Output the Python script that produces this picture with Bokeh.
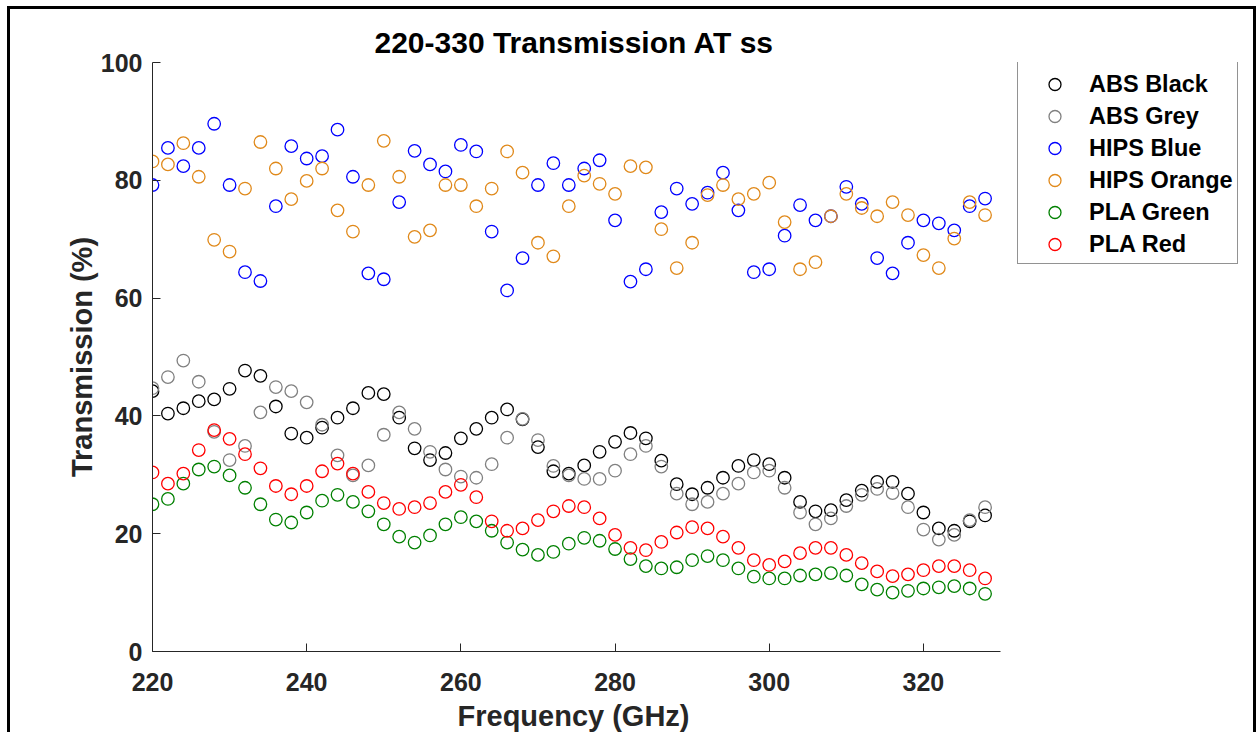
from bokeh.plotting import figure
from bokeh.models import Range1d, Legend, LegendItem, FixedTicker, Title
from bokeh.embed import file_html
from bokeh.resources import INLINE

freq = [220, 222, 224, 226, 228, 230, 232, 234, 236, 238, 240, 242, 244, 246,
        248, 250, 252, 254, 256, 258, 260, 262, 264, 266, 268, 270, 272, 274,
        276, 278, 280, 282, 284, 286, 288, 290, 292, 294, 296, 298, 300, 302,
        304, 306, 308, 310, 312, 314, 316, 318, 320, 322, 324, 326, 328]

abs_black = [44.2, 40.4, 41.3, 42.5, 42.8, 44.6, 47.7, 46.8, 41.6, 37.0, 36.3, 38.0, 39.7, 41.3,
             43.9, 43.7, 39.7, 34.5, 32.5, 33.7, 36.2, 37.8, 39.7, 41.1, 39.4, 34.7, 30.6, 30.2,
             31.6, 33.9, 35.6, 37.1, 36.2, 32.4, 28.4, 26.7, 27.8, 29.5, 31.5, 32.5, 31.8, 29.5,
             25.4, 23.8, 24.0, 25.7, 27.3, 28.8, 28.8, 26.8, 23.6, 20.9, 20.5, 22.1, 23.1]
abs_grey = [44.7, 46.6, 49.4, 45.8, 37.3, 32.5, 34.9, 40.6, 44.9, 44.2, 42.3, 38.5, 33.3, 29.9,
            31.6, 36.8, 40.6, 37.8, 33.9, 30.9, 29.7, 29.5, 31.8, 36.3, 39.5, 35.9, 31.5, 29.9,
            29.3, 29.3, 30.7, 33.5, 34.9, 31.4, 26.8, 25.0, 25.4, 26.8, 28.5, 30.4, 30.7, 27.8,
            23.6, 21.6, 22.6, 24.7, 26.6, 27.6, 26.9, 24.5, 20.7, 19.0, 19.8, 22.3, 24.5]
hips_blue = [79.2, 85.5, 82.4, 85.5, 89.6, 79.2, 64.4, 62.9, 75.6, 85.8, 83.7, 84.1, 88.6, 80.6,
             64.2, 63.2, 76.3, 85.0, 82.7, 81.5, 86.0, 84.9, 71.3, 61.3, 66.8, 79.2, 82.9, 79.2,
             82.0, 83.4, 73.2, 62.8, 64.9, 74.6, 78.6, 76.0, 77.9, 81.3, 74.9, 64.4, 64.9, 70.6,
             75.8, 73.2, 73.9, 78.9, 76.0, 66.8, 64.2, 69.4, 73.2, 72.7, 71.5, 75.6, 76.9]
hips_orange = [83.2, 82.7, 86.3, 80.6, 69.9, 67.9, 78.6, 86.5, 82.0, 76.8, 79.9, 82.0, 74.9, 71.3,
               79.2, 86.7, 80.6, 70.4, 71.5, 79.2, 79.2, 75.6, 78.6, 84.9, 81.3, 69.4, 67.1, 75.6,
               80.8, 79.4, 77.7, 82.4, 82.2, 71.7, 65.1, 69.4, 77.5, 79.2, 76.8, 77.7, 79.6, 72.9,
               64.9, 66.1, 73.9, 77.7, 75.3, 73.9, 76.3, 74.1, 67.3, 65.1, 70.1, 76.3, 74.1]
pla_green = [25.0, 25.9, 28.5, 30.9, 31.4, 29.9, 27.8, 25.0, 22.4, 21.9, 23.6, 25.6, 26.6, 25.4,
             23.8, 21.6, 19.5, 18.5, 19.7, 21.6, 22.8, 22.1, 20.5, 18.5, 17.3, 16.4, 16.9, 18.3,
             19.3, 18.8, 17.4, 15.7, 14.5, 14.1, 14.3, 15.5, 16.2, 15.5, 14.1, 12.7, 12.4, 12.4,
             12.9, 13.1, 13.3, 12.9, 11.4, 10.5, 10.0, 10.3, 10.7, 10.9, 11.1, 10.7, 9.8]
pla_red = [30.4, 28.5, 30.2, 34.2, 37.6, 36.1, 33.5, 31.1, 28.1, 26.7, 28.1, 30.6, 31.9, 30.2,
           27.1, 25.2, 24.2, 24.5, 25.2, 27.1, 28.3, 26.2, 22.1, 20.5, 20.9, 22.3, 23.8, 24.7,
           24.5, 22.6, 19.8, 17.6, 17.2, 18.6, 20.2, 21.1, 20.9, 19.5, 17.6, 15.5, 14.7, 15.3,
           16.7, 17.6, 17.6, 16.4, 15.0, 13.6, 12.8, 13.1, 13.8, 14.5, 14.5, 13.8, 12.4]

series_names = ["ABS Black", "ABS Grey", "HIPS Blue", "HIPS Orange", "PLA Green", "PLA Red"]
series_values = [abs_black, abs_grey, hips_blue, hips_orange, pla_green, pla_red]
series_colors = ["#000000", "#808080", "#0000FF", "#E0891A", "#008000", "#FF0000"]

x_ticks = [220, 240, 260, 280, 300, 320]
y_ticks = [0, 20, 40, 60, 80, 100]
x_lo, x_hi = 220, 330
title_text = "220-330 Transmission AT ss"
x_label = "Frequency (GHz)"
y_label = "Transmission (%)"

FONT = "Liberation Sans"
AX = "#262626"

# layout (pixels)
W, H = 1249, 726
LEFT, TOP, BOTTOM = 142, 53, 83
AXIS_W = 848                      # pixel length of the 220..330 axis
FRAME_W = W - LEFT                # frame extends under the legend
x_end = x_lo + FRAME_W * (x_hi - x_lo) / AXIS_W

p = figure(width=W, height=H, output_backend="svg", toolbar_location=None,
           x_range=Range1d(x_lo, x_end), y_range=Range1d(0, 100),
           min_border_left=LEFT, min_border_right=0, min_border_top=TOP,
           min_border_bottom=BOTTOM)
p.styles = {"border-left": "3px solid black", "border-top": "3px solid black",
            "border-right": "3px solid black", "background-color": "white",
            "margin-left": "7px", "margin-top": "6px"}

title = Title(text=title_text, text_font=FONT, text_font_style="bold",
              text_font_size="30px", text_color="#000000", align="left",
              offset=AXIS_W / 2 - 202, standoff=7)
p.add_layout(title, "above")

p.outline_line_color = None
p.grid.visible = False
p.background_fill_color = "white"
p.border_fill_color = "white"

for ax in (p.xaxis[0], p.yaxis[0]):
    ax.axis_line_color = AX
    ax.axis_line_width = 1
    ax.major_tick_line_color = AX
    ax.major_tick_in = 8
    ax.major_tick_out = 0
    ax.minor_tick_line_color = None
    ax.major_label_text_font = FONT
    ax.major_label_text_font_style = "bold"
    ax.major_label_text_font_size = "25px"
    ax.major_label_text_color = AX
    ax.axis_label_text_font = FONT
    ax.axis_label_text_font_style = "bold"
    ax.axis_label_text_font_size = "29px"
    ax.axis_label_text_color = AX

p.xaxis[0].bounds = (x_lo, x_hi)
p.xaxis[0].ticker = FixedTicker(ticks=x_ticks)
p.yaxis[0].ticker = FixedTicker(ticks=y_ticks)
p.yaxis[0].axis_label = y_label
p.xaxis[0].major_label_standoff = 21
p.yaxis[0].major_label_standoff = 10
p.yaxis[0].axis_label_standoff = 0

xlab = Title(text=x_label, text_font=FONT, text_font_style="bold",
             text_font_size="29px", text_color=AX, align="left",
             offset=AXIS_W / 2 - 119, standoff=8)
p.add_layout(xlab, "below")

items = []
for name, vals, col in zip(series_names, series_values, series_colors):
    r = p.scatter(freq, vals, marker="circle", size=12.5, fill_color=None,
                  line_color=col, line_width=1.3)
    items.append(LegendItem(label=name, renderers=[r]))

legend = Legend(items=items, location=(AXIS_W + 17, 590 - 203), margin=0, padding=4,
                spacing=2, glyph_width=65, glyph_height=30, label_height=30,
                label_standoff=2, label_text_font=FONT, label_text_font_style="bold",
                label_text_font_size="23.5px", label_text_color="#000000",
                title=" ", title_text_font_size="1px", title_standoff=4,
                border_line_color=AX, border_line_width=1, background_fill_alpha=1.0)
p.add_layout(legend, "center")

open("out.html", "w").write(file_html(p, INLINE))
